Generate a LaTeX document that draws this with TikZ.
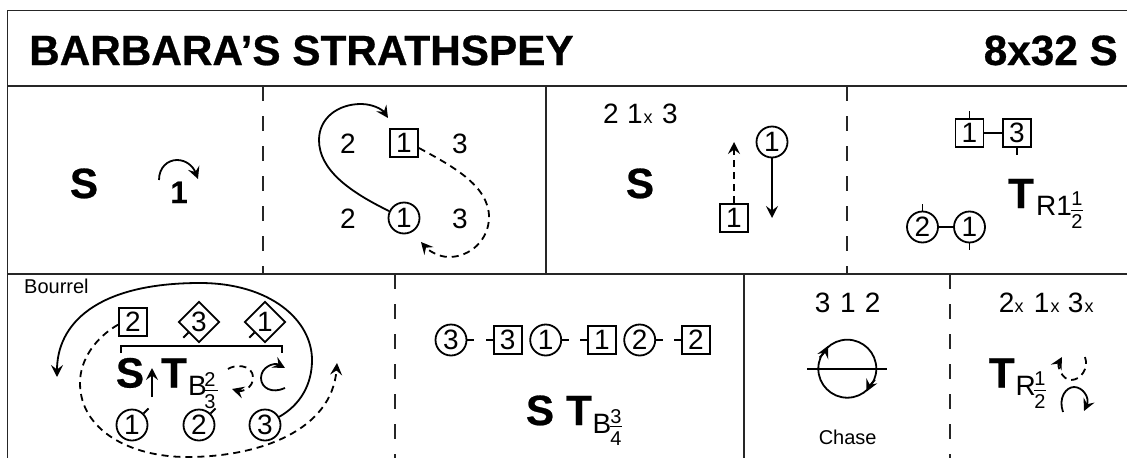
\documentclass[tikz,border=0pt]{standalone}
\usepackage{fontspec}
\setmainfont{Liberation Sans}
\newfontfamily\heavy[FakeBold=0.6]{Liberation Sans Bold}
\usetikzlibrary{arrows.meta,shapes.geometric}
\newcommand{\szN}{\fontsize{28}{28}\selectfont}
\newcommand{\szB}{\fontsize{42.3}{42.3}\selectfont\heavy}
\newcommand{\szF}{\fontsize{20}{20}\selectfont}
\tikzset{
  x=1pt,y=-1pt,
  rule/.style={line width=1.9pt,draw=black!85},
  dashrule/.style={line width=1.9pt,draw=black!85,dash pattern=on 15pt off 15pt},
  lw/.style={line width=1.8pt},
  ar/.style={lw,-{Stealth[length=12pt,width=12pt,inset=4.5pt]}},
  dsh/.style={dash pattern=on 7pt off 5pt},
  txt/.style={inner sep=0pt,anchor=base,font=\szN},
  big/.style={inner sep=0pt,anchor=base,font=\szB},
  frc/.style={inner sep=0pt,anchor=base,font=\szF},
  small/.style={inner sep=0pt,anchor=base,font=\fontsize{18}{18}\selectfont},
  crc/.style={circle,draw,lw,minimum size=31pt,inner sep=0pt,font=\szN},
  sq/.style={rectangle,draw,lw,minimum size=28pt,inner sep=0pt,font=\szN},
  dia/.style={diamond,draw,lw,minimum size=41pt,inner sep=0pt,font=\szN},
  tick/.style={lw},
  fracbar/.style={line width=1pt},
}
\begin{document}
\begin{tikzpicture}
\useasboundingbox (0,0) rectangle (1127,458);
% frame
\coordinate (tl) at (7.5,10.5);
\coordinate (tr) at (1127,10.5);
\coordinate (bl) at (7.5,458);
\coordinate (ml) at (7.5,86);
\coordinate (mr) at (1127,86);
\coordinate (nl) at (7.5,274);
\coordinate (nr) at (1127,274);
\draw[rule] (tr) -- (tl) -- (bl);
\draw[rule] (ml) -- (mr);
\draw[rule] (nl) -- (nr);
\coordinate (d1a) at (263,86); \coordinate (d1b) at (263,274);
\coordinate (s1a) at (546,86); \coordinate (s1b) at (546,274);
\coordinate (d2a) at (847,86); \coordinate (d2b) at (847,274);
\coordinate (d3a) at (395,274); \coordinate (d3b) at (395,458);
\coordinate (s2a) at (744,274); \coordinate (s2b) at (744,458);
\coordinate (d4a) at (950,274); \coordinate (d4b) at (950,458);
\draw[dashrule] (d1a) -- (d1b);
\draw[rule] (s1a) -- (s1b);
\draw[dashrule] (d2a) -- (d2b);
\draw[dashrule] (d3a) -- (d3b);
\draw[rule] (s2a) -- (s2b);
\draw[dashrule] (d4a) -- (d4b);
% title
\node[inner sep=0pt,anchor=base west,font=\szB] (title) at (29,65) {BARBARA’S STRATHSPEY};
\node[inner sep=0pt,anchor=base east,font=\szB] (tempo) at (1118,65) {8x32 S};
% panel 1
\node[big] (p1s) at (84,198) {S};
\node[inner sep=0pt,anchor=base,font=\fontsize{31}{31}\selectfont\heavy] (p1one) at (179,203) {1};
\coordinate (p1a) at (159,180);
\coordinate (p1b) at (198,179);
\draw[ar] (p1a) .. controls (159,167) and (168,160) .. (177,160) .. controls (186,160) and (193,166) .. (p1b);
% panel 2
\node[txt] (p2a) at (348,153) {2};
\node[sq] (p2b) at (404,143) {1};
\node[txt] (p2c) at (460,153) {3};
\node[txt] (p2d) at (348,228) {2};
\node[crc] (p2e) at (404,218) {1};
\node[txt] (p2f) at (460,228) {3};
\coordinate (p2t1) at (388,118);
\coordinate (p2t2) at (421,242);
\draw[ar] (p2e) ++(-15,-7) .. controls (350,192) and (319,170) .. (319,140) .. controls (319,118) and (338,104) .. (361,104) .. controls (372,104) and (382,109) .. (p2t1);
\draw[ar,dsh] (p2b) ++(15,5) .. controls (450,165) and (489,185) .. (489,217) .. controls (489,240) and (470,257) .. (449,257) .. controls (438,257) and (428,250) .. (p2t2);
% panel 3
\node[txt] (p3a) at (611,123) {2};
\node[txt] (p3b) at (635,123) {1};
\node[small] (p3x) at (648,123) {x};
\node[txt] (p3c) at (670,123) {3};
\node[big] (p3s) at (640,198) {S};
\node[sq] (p3d) at (734,218) {1};
\node[crc] (p3e) at (772,142) {1};
\coordinate (p3t1) at (734,142);
\coordinate (p3t2) at (772,218);
\draw[ar,dsh] (p3d) -- (p3t1);
\draw[ar] (p3e) -- (p3t2);
% panel 4
\node[sq] (p4a) at (969.5,133) {1};
\node[sq] (p4b) at (1017,133) {3};
\node[crc] (p4c) at (922.5,227) {2};
\node[crc] (p4d) at (969.5,227) {1};
\draw[line width=2.6pt] (p4a) -- (p4b);
\draw[line width=2.6pt] (p4c) -- (p4d);
\draw[tick] (p4a.north) -- ++(0,-7);
\draw[tick] (p4b.south) -- ++(0,7);
\draw[tick] (p4c.north) -- ++(0,-7);
\draw[tick] (p4d.south) -- ++(0,7);
\node[big] (p4t) at (1021,208) {T};
\node[txt,anchor=base west] (p4r) at (1036,215) {R1};
\node[frc] (p4n) at (1077,205) {1};
\node[frc] (p4m) at (1077,228) {2};
\coordinate (p4f1) at (1071,210.7); \coordinate (p4f2) at (1083,210.7);
\draw[fracbar] (p4f1) -- (p4f2);
% row 2 panel 1
\node[inner sep=0pt,anchor=base west,font=\fontsize{20}{20}\selectfont] (bour) at (24,293) {Bourrel};
\node[sq] (q2) at (133,322) {2};
\node[dia] (q3) at (199,322) {3};
\node[dia] (q1) at (265,322) {1};
\draw[tick] (q3.-135) -- ++(-5,5);
\draw[tick] (q1.-135) -- ++(-5,5);
\coordinate (br1) at (121,353); \coordinate (br2) at (121,346);
\coordinate (br3) at (282,346); \coordinate (br4) at (282,353);
\draw[lw] (br1) -- (br2) -- (br3) -- (br4);
\node[big] (qs) at (130,387.5) {S};
\coordinate (qa1) at (152,397); \coordinate (qa2) at (152,368);
\draw[ar] (qa1) -- (qa2);
\node[big] (qt) at (174,387.5) {T};
\node[txt,anchor=base west] (qb) at (188,395) {B};
\node[frc] (qn) at (210,386.5) {2};
\node[frc] (qm) at (210,408.5) {3};
\coordinate (qf1) at (203,390); \coordinate (qf2) at (218,390);
\draw[fracbar] (qf1) -- (qf2);
\coordinate (qd1) at (228,369); \coordinate (qd2) at (232,389);
\draw[ar,dsh] (qd1) .. controls (233,365) and (253,363) .. (253,378) .. controls (253,388) and (242,392) .. (qd2);
\coordinate (qe1) at (285,388); \coordinate (qe2) at (285,368);
\draw[ar] (qe1) .. controls (272,394) and (261,388) .. (261,378) .. controls (261,367) and (274,362) .. (qe2);
\node[crc] (c1) at (132,425) {1};
\node[crc] (c2) at (199,425) {2};
\node[crc] (c3) at (265,425) {3};
\draw[tick] (c1.45) -- ++(5,-5);
\draw[tick] (c2.45) -- ++(5,-5);
\coordinate (qt1) at (57,377);
\coordinate (qt2) at (337,363);
\draw[ar] (c3.30) .. controls (300,405) and (312,385) .. (312,360) .. controls (312,320) and (270,283) .. (200,283) .. controls (95,283) and (57,325) .. (qt1);
\draw[ar,dsh] (q2.-170) .. controls (95,338) and (80,360) .. (80,383) .. controls (80,430) and (130,457) .. (187,457) .. controls (260,457) and (332,430) .. (qt2);
% row 2 panel 2
\node[crc] (r1) at (451,340) {3};
\node[sq] (r2) at (507.7,340) {3};
\node[crc] (r3) at (545.7,340) {1};
\node[sq] (r4) at (602,340) {1};
\node[crc] (r5) at (639.7,340) {2};
\node[sq] (r6) at (696,340) {2};
\draw[tick] (r1.east) -- ++(7,0);
\draw[tick] (r2.west) -- ++(-7,0);
\draw[tick] (r3.east) -- ++(7,0);
\draw[tick] (r4.west) -- ++(-7,0);
\draw[tick] (r5.east) -- ++(7,0);
\draw[tick] (r6.west) -- ++(-7,0);
\node[big] (rs) at (540,425) {S};
\node[big] (rt) at (579,425) {T};
\node[txt,anchor=base west] (rb) at (592.5,433) {B};
\node[frc] (rn) at (616,423) {3};
\node[frc] (rm) at (616,445) {4};
\coordinate (rf1) at (610,426.7); \coordinate (rf2) at (622,426.7);
\draw[fracbar] (rf1) -- (rf2);
% row 2 panel 3
\node[txt] (u1) at (822.7,312.5) {3};
\node[txt] (u2) at (848,312.5) {1};
\node[txt] (u3) at (872.7,312.5) {2};
\node[circle,draw,lw,minimum size=58pt,inner sep=0pt] (chase) at (847.3,368.7) {};
\coordinate (ul) at (807,368.7); \coordinate (ur) at (887,368.7);
\draw[lw] (ul) -- (ur);
\draw[ar] (chase.158) to[bend right=10] (chase.130);
\draw[ar] (chase.-22) to[bend right=10] (chase.-50);
\node[inner sep=0pt,anchor=base,font=\fontsize{20}{20}\selectfont] (chtxt) at (847.7,444.5) {Chase};
% row 2 panel 4
\node[txt] (v1) at (1006.7,312.5) {2};
\node[small] (v1x) at (1019,312.5) {x};
\node[txt] (v2) at (1041.7,312.5) {1};
\node[small] (v2x) at (1055,312.5) {x};
\node[txt] (v3) at (1075.7,312.5) {3};
\node[small] (v3x) at (1089,312.5) {x};
\node[big] (vt) at (1001.7,387.5) {T};
\node[txt,anchor=base west] (vr) at (1015.5,395) {R};
\node[frc] (vn) at (1040,385.5) {1};
\node[frc] (vm) at (1040,408.5) {2};
\coordinate (vf1) at (1034,390); \coordinate (vf2) at (1046,390);
\draw[fracbar] (vf1) -- (vf2);
\coordinate (va1) at (1085,357); \coordinate (va2) at (1062,357);
\draw[ar,dsh] (va1) .. controls (1089,368) and (1081,380) .. (1071,380) .. controls (1062,380) and (1057,366) .. (va2);
\coordinate (vb1) at (1063,412); \coordinate (vb2) at (1084,411);
\draw[ar] (vb1) .. controls (1058,398) and (1066,387) .. (1074,387) .. controls (1083,387) and (1090,398) .. (vb2);
\end{tikzpicture}
\end{document}
